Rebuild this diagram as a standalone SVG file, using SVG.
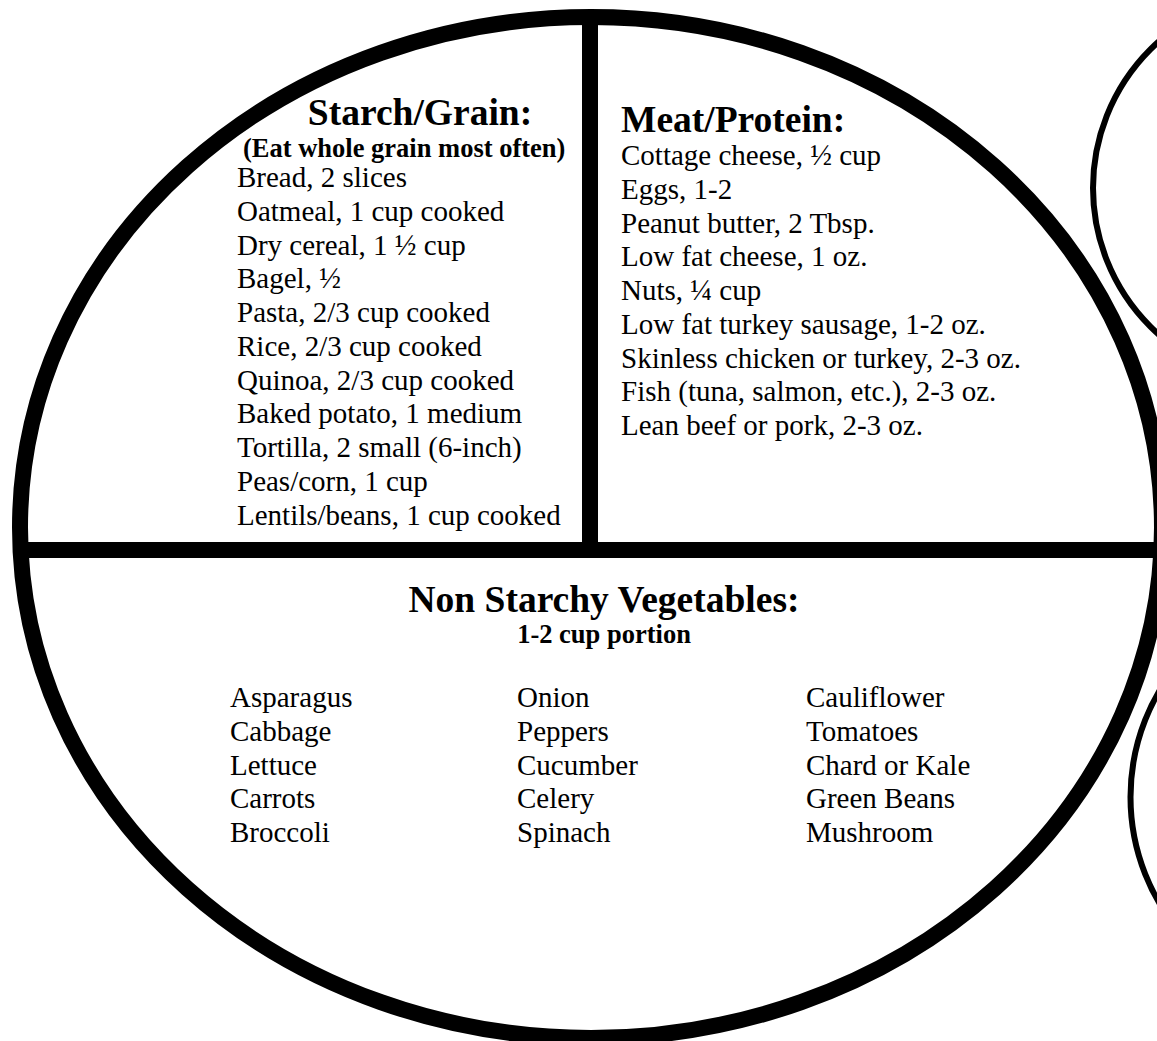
<svg xmlns="http://www.w3.org/2000/svg" width="1157" height="1041" viewBox="0 0 1157 1041">
<style>
  .txt { font-family: "Liberation Serif", "Times New Roman", serif; fill: #000; }
  .body { font-size: 29px; }
  .head { font-size: 37.5px; font-weight: bold; }
  .sub { font-size: 26.5px; font-weight: bold; }
  .plate { fill: none; stroke: #000; stroke-width: 16; }
  .div { stroke: #000; stroke-width: 16; }
  .side { fill: none; stroke: #000; stroke-width: 6; }
</style>
<defs>
  <clipPath id="plateClip">
    <ellipse cx="591" cy="527.5" rx="571" ry="510.5"/>
  </clipPath>
</defs>
<rect x="0" y="0" width="1157" height="1041" fill="#fff"/>

<g id="side-circles">
  <circle id="side-circle-top" class="side" cx="1289" cy="188" r="196"/>
  <circle id="side-circle-bottom" class="side" cx="1340" cy="797" r="209.5"/>
</g>

<g id="dividers" clip-path="url(#plateClip)">
  <line class="div" x1="590" y1="0" x2="590" y2="550"/>
  <line class="div" x1="0" y1="550" x2="1157" y2="550"/>
</g>

<g id="plate">
  <ellipse class="plate" cx="591" cy="527.5" rx="571" ry="510.5"/>
</g>

<g id="starch" class="txt">
  <text class="head" x="420" y="125" text-anchor="middle">Starch/Grain:</text>
  <text class="sub" x="243" y="157">(Eat whole grain most often)</text>
  <g class="body">
    <text x="237" y="187">Bread, 2 slices</text>
    <text x="237" y="220.75">Oatmeal, 1 cup cooked</text>
    <text x="237" y="254.5">Dry cereal, 1 ½ cup</text>
    <text x="237" y="288.25">Bagel, ½</text>
    <text x="237" y="322">Pasta, 2/3 cup cooked</text>
    <text x="237" y="355.75">Rice, 2/3 cup cooked</text>
    <text x="237" y="389.5">Quinoa, 2/3 cup cooked</text>
    <text x="237" y="423.25">Baked potato, 1 medium</text>
    <text x="237" y="457">Tortilla, 2 small (6-inch)</text>
    <text x="237" y="490.75">Peas/corn, 1 cup</text>
    <text x="237" y="524.5">Lentils/beans, 1 cup cooked</text>
  </g>
</g>

<g id="protein" class="txt">
  <text class="head" x="621" y="132">Meat/Protein:</text>
  <g class="body">
    <text x="621" y="165">Cottage cheese, ½ cup</text>
    <text x="621" y="198.75">Eggs, 1-2</text>
    <text x="621" y="232.5">Peanut butter, 2 Tbsp.</text>
    <text x="621" y="266.25">Low fat cheese, 1 oz.</text>
    <text x="621" y="300">Nuts, ¼ cup</text>
    <text x="621" y="333.75">Low fat turkey sausage, 1-2 oz.</text>
    <text x="621" y="367.5">Skinless chicken or turkey, 2-3 oz.</text>
    <text x="621" y="401.25">Fish (tuna, salmon, etc.), 2-3 oz.</text>
    <text x="621" y="435">Lean beef or pork, 2-3 oz.</text>
  </g>
</g>

<g id="vegetables" class="txt">
  <text class="head" x="604" y="612" text-anchor="middle">Non Starchy Vegetables:</text>
  <text class="sub" x="604" y="643" text-anchor="middle">1-2 cup portion</text>
  <g class="body">
    <text x="230" y="707">Asparagus</text>
    <text x="230" y="740.75">Cabbage</text>
    <text x="230" y="774.5">Lettuce</text>
    <text x="230" y="808.25">Carrots</text>
    <text x="230" y="842">Broccoli</text>
    <text x="517" y="707">Onion</text>
    <text x="517" y="740.75">Peppers</text>
    <text x="517" y="774.5">Cucumber</text>
    <text x="517" y="808.25">Celery</text>
    <text x="517" y="842">Spinach</text>
    <text x="806" y="707">Cauliflower</text>
    <text x="806" y="740.75">Tomatoes</text>
    <text x="806" y="774.5">Chard or Kale</text>
    <text x="806" y="808.25">Green Beans</text>
    <text x="806" y="842">Mushroom</text>
  </g>
</g>
</svg>
